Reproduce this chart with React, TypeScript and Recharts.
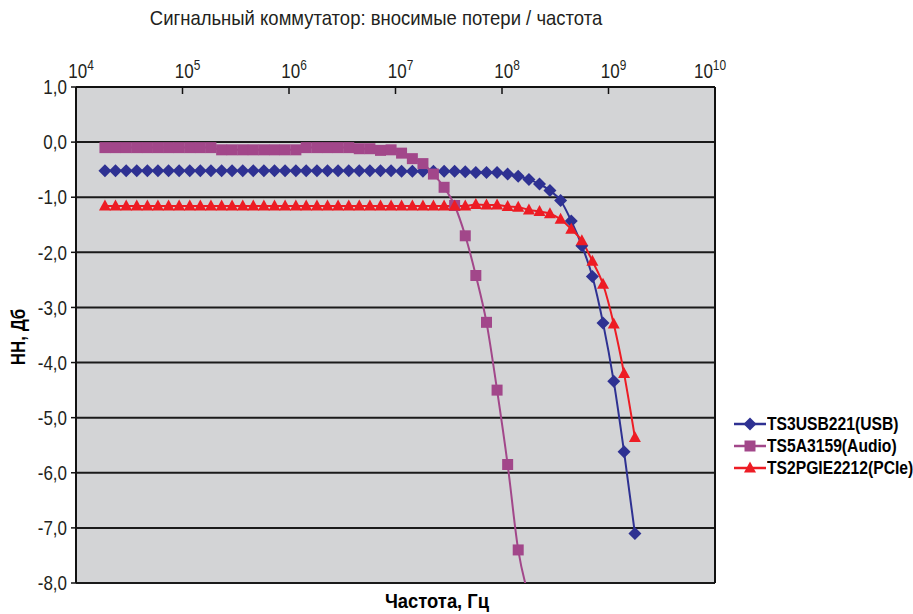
import React from 'react';
import { LineChart, Line, XAxis, YAxis, CartesianGrid, ReferenceLine } from 'recharts';

// Частоты измерений, Гц (логарифмическая сетка)
const frequencies = [
  18700, 23500, 29600, 37200, 46800, 58800, 74000, 93000,
  117000, 147000, 185000, 233000, 292000, 368000, 462000, 581000, 731000, 919000,
  1.16e6, 1.45e6, 1.83e6, 2.3e6, 2.89e6, 3.64e6, 4.57e6, 5.75e6, 7.23e6, 9.09e6,
  1.14e7, 1.44e7, 1.81e7, 2.27e7, 2.86e7, 3.59e7, 4.52e7, 5.68e7, 7.15e7, 8.99e7,
  1.13e8, 1.42e8, 1.79e8, 2.25e8, 2.82e8, 3.55e8, 4.47e8, 5.62e8, 7.06e8, 8.88e8,
  1.12e9, 1.4e9, 1.77e9,
];

// Вносимые потери, дБ
const usbLoss = [
  -0.52, -0.52, -0.52, -0.52, -0.52, -0.52, -0.52, -0.52, -0.52, -0.52,
  -0.52, -0.52, -0.52, -0.52, -0.52, -0.52, -0.52, -0.52, -0.52, -0.52,
  -0.52, -0.52, -0.52, -0.52, -0.52, -0.52, -0.52, -0.52, -0.53, -0.53,
  -0.53, -0.53, -0.53, -0.53, -0.54, -0.55, -0.55, -0.55, -0.58, -0.62,
  -0.68, -0.76, -0.88, -1.06, -1.43, -1.88, -2.44, -3.28, -4.34, -5.62,
  -7.1,
];

const audioLoss = [
  -0.1, -0.1, -0.1, -0.1, -0.1, -0.1, -0.1, -0.1, -0.1, -0.1,
  -0.1, -0.14, -0.14, -0.14, -0.14, -0.14, -0.14, -0.14, -0.14, -0.1,
  -0.1, -0.1, -0.1, -0.1, -0.12, -0.12, -0.15, -0.14, -0.2, -0.3,
  -0.39, -0.58, -0.82, -1.15, -1.7, -2.42, -3.27, -4.5, -5.85, -7.4,
  -8.25, null, null, null, null, null, null, null, null, null,
  null,
];

const pcieLoss = [
  -1.16, -1.16, -1.16, -1.16, -1.16, -1.16, -1.16, -1.16, -1.16, -1.16,
  -1.16, -1.16, -1.16, -1.16, -1.16, -1.16, -1.16, -1.16, -1.16, -1.16,
  -1.16, -1.16, -1.16, -1.16, -1.16, -1.16, -1.16, -1.16, -1.16, -1.16,
  -1.16, -1.16, -1.16, -1.16, -1.16, -1.13, -1.14, -1.14, -1.17, -1.18,
  -1.23, -1.26, -1.3, -1.4, -1.58, -1.79, -2.16, -2.58, -3.3, -4.2,
  -5.36,
];

const xTicks = [1e4, 1e5, 1e6, 1e7, 1e8, 1e9, 1e10];
const yTicks = [1, 0, -1, -2, -3, -4, -5, -6, -7, -8];

const series = [
  { key: 'usb', name: 'TS3USB221(USB)', color: '#2E3192', marker: 'diamond' },
  { key: 'audio', name: 'TS5A3159(Audio)', color: '#A2478A', marker: 'square' },
  { key: 'pcie', name: 'TS2PGIE2212(PCIe)', color: '#ED1C24', marker: 'triangle' },
];

const data = frequencies.map((freq, i) => ({
  freq,
  usb: usbLoss[i],
  audio: audioLoss[i],
  pcie: pcieLoss[i],
}));

const FONT = "'Liberation Sans', Arial, sans-serif";
const TEXT = '#231F20';
// шрифт без узкого начертания — сжимаем по горизонтали
const NARROW = 0.85;

const markerPath = (type: string, cx: number, cy: number) => {
  if (type === 'diamond') return `M${cx},${cy - 6.5}L${cx + 6.5},${cy}L${cx},${cy + 6.5}L${cx - 6.5},${cy}Z`;
  if (type === 'square') return `M${cx - 5.5},${cy - 5.5}h11v11h-11Z`;
  return `M${cx},${cy - 6.5}L${cx + 6},${cy + 4.5}L${cx - 6},${cy + 4.5}Z`;
};

const makeDot = (type: string, color: string) => (props: any) => {
  const { cx, cy, index, value } = props;
  if (value == null || cx == null || cy == null) return <g key={`e-${index}`} />;
  return <path key={`m-${index}`} d={markerPath(type, cx, cy)} fill={color} />;
};

const PowerTick = (props: any) => {
  const { x, y, payload } = props;
  const exp = Math.round(Math.log10(payload.value));
  const shift = exp >= 10 ? -5 : 5;
  return (
    <g>
      <line x1={x} y1={y} x2={x} y2={y + 7} stroke="#111" strokeWidth={1.5} />
      <text
        transform={`translate(${x + shift},${y - 9}) scale(${NARROW},1)`}
        textAnchor="middle"
        fill={TEXT}
        fontFamily={FONT}
        fontSize={20}
      >
        <tspan>10</tspan>
        <tspan dy={-8} fontSize={14}>{exp}</tspan>
      </text>
    </g>
  );
};

const ValueTick = (props: any) => {
  const { x, y, payload } = props;
  return (
    <text
      transform={`translate(${x},${y}) scale(${NARROW},1)`}
      textAnchor="end"
      dy="0.36em"
      fill={TEXT}
      fontFamily={FONT}
      fontSize={20}
    >
      {payload.value.toFixed(1).replace('.', ',')}
    </text>
  );
};

const App: React.FC = () => {
  return (
    <div style={{ position: 'absolute', left: 0, top: 0, width: 913, height: 614, background: '#fff', fontFamily: FONT }}>
      <div
        style={{
          position: 'absolute', left: 376, top: 6, transform: `translateX(-50%) scaleX(${NARROW + 0.03})`,
          fontSize: 21, color: TEXT, whiteSpace: 'nowrap',
        }}
      >
        Сигнальный коммутатор: вносимые потери / частота
      </div>

      <LineChart width={913} height={614} data={data} margin={{ top: 57, right: 198, bottom: 31, left: 16 }}>
        <CartesianGrid vertical={false} fill="#D3D4D6" stroke="#1a1a1a" strokeWidth={2} />
        <XAxis
          dataKey="freq"
          type="number"
          scale="log"
          orientation="top"
          domain={[1e4, 1e10]}
          ticks={xTicks}
          allowDataOverflow
          height={30}
          tickSize={0}
          tickMargin={0}
          tickLine={false}
          tick={<PowerTick />}
          axisLine={{ stroke: '#111', strokeWidth: 2 }}
        />
        <YAxis
          type="number"
          domain={[-8, 1]}
          ticks={yTicks}
          allowDataOverflow
          width={60}
          tickSize={5}
          tickMargin={4}
          tick={<ValueTick />}
          tickLine={{ stroke: '#111', strokeWidth: 1.5 }}
          axisLine={{ stroke: '#111', strokeWidth: 2 }}
        />
        <ReferenceLine x={1e10} stroke="#111" strokeWidth={2} />
        {series.map((s) => (
          <Line
            key={s.key}
            dataKey={s.key}
            name={s.name}
            type="monotone"
            stroke={s.color}
            strokeWidth={2}
            dot={makeDot(s.marker, s.color)}
            activeDot={false}
            isAnimationActive={false}
          />
        ))}
      </LineChart>

      <div
        style={{
          position: 'absolute', left: 18, top: 337, transform: `translate(-50%, -50%) rotate(-90deg) scaleX(${NARROW})`,
          fontSize: 20, fontWeight: 'bold', color: '#000', whiteSpace: 'nowrap',
        }}
      >
        НН, Дб
      </div>
      <div
        style={{
          position: 'absolute', left: 437, top: 590, transform: `translateX(-50%) scaleX(0.92)`,
          fontSize: 20, fontWeight: 'bold', color: '#000', whiteSpace: 'nowrap',
        }}
      >
        Частота, Гц
      </div>

      <div style={{ position: 'absolute', left: 733, top: 413 }}>
        {series.map((s) => (
          <div key={s.key} style={{ display: 'flex', alignItems: 'center', height: 22 }}>
            <svg width={34} height={14} style={{ flex: 'none' }}>
              <line x1={1} y1={7} x2={33} y2={7} stroke={s.color} strokeWidth={2.5} />
              <path d={markerPath(s.marker, 17, 7)} fill={s.color} />
            </svg>
            <span
              style={{
                display: 'inline-block', fontSize: 18, fontWeight: 'bold', color: '#000', whiteSpace: 'nowrap',
                transform: 'scaleX(0.87)', transformOrigin: 'left center',
              }}
            >
              {s.name}
            </span>
          </div>
        ))}
      </div>
    </div>
  );
};

export default App;
